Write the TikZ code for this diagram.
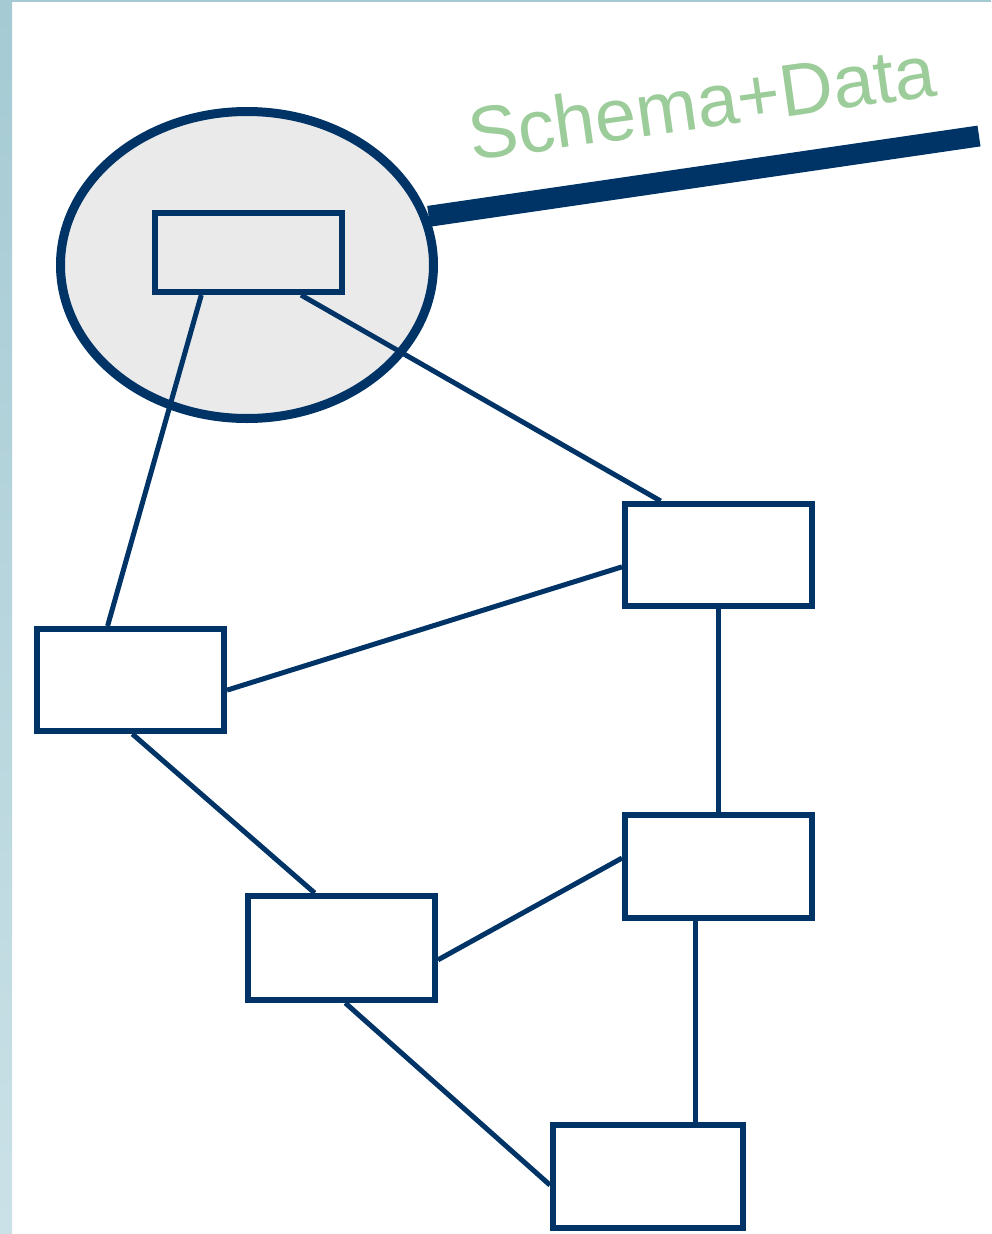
\documentclass[tikz,border=0pt]{standalone}
\usepackage{fontspec}
\setmainfont{Liberation Sans}
\usepackage{tikz}
\usetikzlibrary{positioning,shapes.geometric,calc}
\usepackage{xcolor}
\definecolor{sitenavy}{RGB}{0,51,102}
\definecolor{labelgreen}{RGB}{156,204,154}
\definecolor{frameteal}{RGB}{165,202,211}
\definecolor{frametealpale}{RGB}{202,225,231}
\definecolor{storegray}{RGB}{234,234,234}

\begin{document}
\begin{tikzpicture}[x=1pt,y=-1pt,
  site/.style={rectangle,draw=sitenavy,line width=6pt,fill=white,inner sep=0pt,
    minimum width=187pt,minimum height=102pt},
  link/.style={draw=sitenavy,line width=5pt}]
\useasboundingbox (0,0) rectangle (991,1234);
% Slide frame
\shade[top color=frameteal,bottom color=frametealpale] (0,0) rectangle (12,1234);
\fill[frameteal] (12,0) rectangle (991,2);
% Central store with its schema
\node[ellipse,draw=sitenavy,line width=9pt,fill=storegray,inner sep=0pt,
  minimum width=373pt,minimum height=307pt] (store) at (247,265) {};
\node[site,fill=storegray,minimum height=79pt] (schema) at (248.5,252.5) {};
% Sites
\node[site] (A) at (718.5,555) {};
\node[site] (B) at (130.5,680) {};
\node[site,minimum height=103pt] (C) at (718.5,866.5) {};
\node[site,minimum height=104pt] (D) at (341.5,948) {};
\node[site,minimum width=190pt,minimum height=103pt] (E) at (648,1176.5) {};
% Links between sites
\draw[link] (schema.-138) -- (B.113);
\draw[link] (schema.-39) -- (A.137);
\draw[link] (A.187) -- (B.-6);
\draw[link] (A.south) -- (C.north);
\draw[link] (B.-88) -- (D.116);
\draw[link] (C.175) -- (D.-7);
\draw[link] (C.south -| E.49) -- (E.49);
\draw[link] (D.-86) -- (E.185);
% Feed line
\coordinate (feed) at (979,136);
\draw[sitenavy,line width=21pt] (store.15) -- (feed);
\node[anchor=base west,rotate=8,inner sep=0pt,text=labelgreen,
  font=\fontsize{74}{74}\selectfont] (feedlabel) at (472,161) {Schema+Data};
\end{tikzpicture}
\end{document}
